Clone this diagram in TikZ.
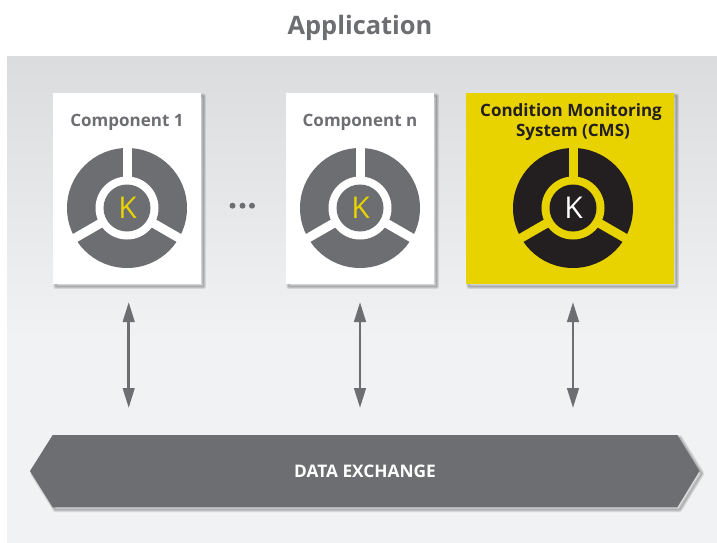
\documentclass[tikz,border=0pt]{standalone}
\usepackage{fontspec}
\setmainfont{Open Sans}
\usetikzlibrary{arrows.meta}
\definecolor{dgray}{HTML}{6D6E71}
\definecolor{cyel}{HTML}{E8D200}
\definecolor{cblk}{HTML}{231F20}
\definecolor{bgtop}{HTML}{DBDCDE}
\definecolor{bgbot}{HTML}{F1F2F4}
\tikzset{
  x=1pt,y=-1pt,
  card/.style={fill=white,draw=none,minimum width=148pt,minimum height=191pt,inner sep=0pt,outer sep=0pt},
  cardy/.style={card,fill=cyel,minimum width=208pt},
  softlayer/.style={draw=black,draw opacity=.05,line join=round},
  softcore/.style={fill=black,fill opacity=.06},
  titletext/.style={font=\bfseries\fontsize{17}{20}\selectfont,text=dgray,align=center,inner sep=0pt},
  darrow/.style={draw=dgray,line width=2.8pt,{Triangle[length=20pt,width=11.5pt]}-{Triangle[length=20pt,width=11.5pt]}},
}
% soft shadow drawn as stacked translucent outlines of the given closed path
\newcommand{\softshadowpath}[1]{%
  \begin{scope}[shift={(2.5,2.5)}]
    \path[softcore] #1;
    \foreach \w in {5,4,3,2,1}{\path[softlayer,line width=\w pt] #1;}
  \end{scope}}
\newcommand{\wheel}[6]{%
  \begin{scope}[shift={(#1,#2)}]
    \fill[#3] (0,0) circle[radius=60];
    \draw[#4,line width=9pt] (0,0) -- (90:-70);
    \foreach \a in {30,150}{\draw[#4,line width=9pt] (0,0) -- (\a:70);}
    \fill[#4] (0,0) circle[radius=31.5];
    \fill[#3] (0,0) circle[radius=23.5];
    \node[font=\fontsize{30}{34}\selectfont,text=#5,inner sep=0pt] (#6) at (0.5,0) {K};
  \end{scope}}
\begin{document}
\begin{tikzpicture}
\useasboundingbox (0,0) rectangle (717,543);
\fill[white] (0,0) rectangle (717,543);
\node[font=\bfseries\fontsize{25.4}{30}\selectfont,text=dgray,inner sep=0pt] (apptitle) at (360,27.5) {Application};
\fill[top color=bgtop,bottom color=bgbot] (7,57) rectangle (717,340);
\fill[bgbot] (7,339.5) rectangle (717,543);
\softshadowpath{(53,93) rectangle (201,284)}
\softshadowpath{(286,93) rectangle (434,284)}
\softshadowpath{(466,93) rectangle (674,284)}
\node[card] (c1) at (127,188.5) {};
\node[card] (cn) at (360,188.5) {};
\node[cardy] (cms) at (570,188.5) {};
\node[titletext] (t1) at (127,122.5) {Component 1};
\node[titletext] (tn) at (360,122.5) {Component n};
\node[titletext,text=cblk] (tc) at (571,122) {Condition Monitoring\\System (CMS)\hspace*{-4pt}};
\wheel{127}{208}{dgray}{white}{cyel}{k1}
\wheel{360}{208}{dgray}{white}{cyel}{kn}
\wheel{573}{208}{cblk}{cyel}{white}{kc}
\foreach \x/\n in {232.5/a,242.5/b,252/c}{\fill[dgray] (\x,205.7) circle[radius=3];}
\coordinate (a1t) at (128.7,302); \coordinate (a1b) at (128.7,408);
\coordinate (a2t) at (360,302); \coordinate (a2b) at (360,408);
\coordinate (a3t) at (573,302); \coordinate (a3b) at (573,408);
\draw[darrow] (a1t) -- (a1b);
\draw[darrow] (a2t) -- (a2b);
\draw[darrow] (a3t) -- (a3b);
\softshadowpath{(52.7,435) -- (677.3,435) -- (699.5,471) -- (677.3,507.3) -- (52.7,507.3) -- (30,471) -- cycle}
\path[fill=dgray] (52.7,435) -- (677.3,435) -- (699.5,471) -- (677.3,507.3) -- (52.7,507.3) -- (30,471) -- cycle;
\node[font=\bfseries\fontsize{17.3}{20}\selectfont,text=white,inner sep=0pt] (dx) at (365,471.5) {DATA EXCHANGE};
\end{tikzpicture}
\end{document}
